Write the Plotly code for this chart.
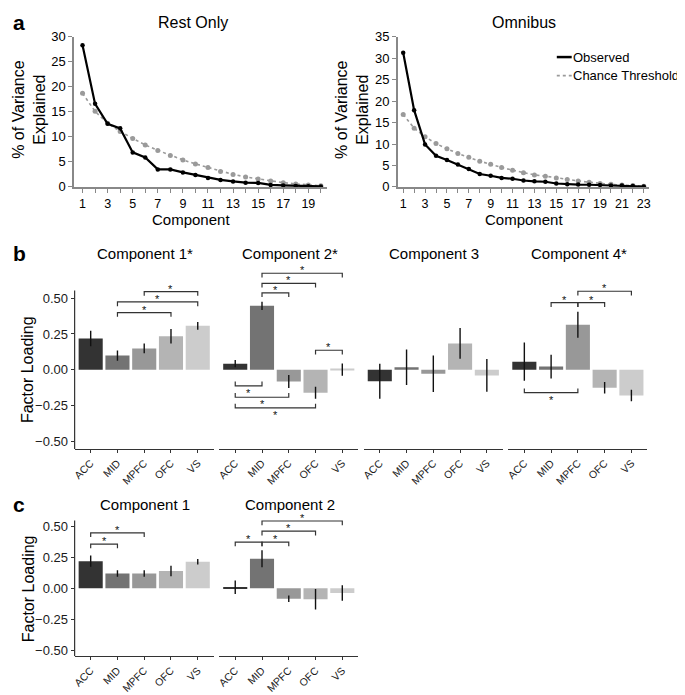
import plotly.graph_objects as go

W, H = 685, 695
FONT = "Liberation Sans, Arial, sans-serif"

# ---------------- data ----------------
rest_comp = list(range(1, 21))
rest_observed = [28.3, 16.6, 12.6, 11.7, 6.9, 5.9, 3.5, 3.5, 2.9, 2.4, 1.8, 1.4, 1.1, 0.85, 0.8, 0.4, 0.3, 0.2, 0.15, 0.1]
rest_chance = [18.7, 15.1, 12.7, 11.1, 9.7, 8.4, 7.3, 6.3, 5.4, 4.6, 3.9, 3.1, 2.5, 2.0, 1.6, 1.2, 0.85, 0.6, 0.4, 0.25]

omni_comp = list(range(1, 24))
omni_observed = [31.3, 17.9, 9.9, 7.25, 6.26, 5.2, 4.2, 3.0, 2.6, 2.1, 1.9, 1.5, 1.3, 1.2, 0.8, 0.6, 0.55, 0.5, 0.45, 0.35, 0.3, 0.2, 0.1]
omni_chance = [16.9, 13.7, 11.7, 10.1, 8.9, 7.8, 6.9, 6.0, 5.3, 4.5, 3.9, 3.3, 2.8, 2.5, 2.1, 1.7, 1.4, 1.1, 0.8, 0.6, 0.45, 0.3, 0.15]

regions = ["ACC", "MID", "MPFC", "OFC", "VS"]
region_colors = ["#333333", "#737373", "#989898", "#B4B4B4", "#CCCCCC"]

b_titles = ["Component 1*", "Component 2*", "Component 3", "Component 4*"]
b_means = [
    [0.218, 0.099, 0.149, 0.234, 0.307],
    [0.042, 0.447, -0.083, -0.161, 0.001],
    [-0.081, 0.017, -0.028, 0.184, -0.040],
    [0.056, 0.022, 0.314, -0.127, -0.181],
]
b_err = [
    [0.054, 0.036, 0.034, 0.051, 0.027],
    [0.025, 0.029, 0.045, 0.042, 0.043],
    [0.122, 0.125, 0.128, 0.108, 0.114],
    [0.134, 0.083, 0.091, 0.040, 0.040],
]
# significance brackets: (facet index, from, to, level, direction)
b_sig = [
    (0, "MID", "OFC", 0.400, 1), (0, "MID", "VS", 0.474, 1), (0, "MPFC", "VS", 0.547, 1),
    (1, "MID", "MPFC", 0.538, 1), (1, "MID", "OFC", 0.604, 1), (1, "MID", "VS", 0.675, 1),
    (1, "OFC", "VS", 0.136, 1),
    (1, "ACC", "MID", -0.113, -1), (1, "ACC", "MPFC", -0.193, -1), (1, "ACC", "OFC", -0.268, -1),
    (3, "MID", "MPFC", 0.469, 1), (3, "MPFC", "OFC", 0.469, 1), (3, "MPFC", "VS", 0.549, 1),
    (3, "ACC", "MPFC", -0.161, -1),
]

c_titles = ["Component 1", "Component 2"]
c_means = [
    [0.219, 0.120, 0.120, 0.140, 0.214],
    [0.009, 0.238, -0.083, -0.088, -0.038],
]
c_err = [
    [0.046, 0.026, 0.026, 0.042, 0.022],
    [0.055, 0.068, 0.026, 0.083, 0.062],
]
c_sig = [
    (0, "ACC", "MID", 0.356, 1), (0, "ACC", "MPFC", 0.447, 1),
    (1, "ACC", "MID", 0.372, 1), (1, "MID", "MPFC", 0.372, 1),
    (1, "MID", "OFC", 0.460, 1), (1, "MID", "VS", 0.542, 1),
]

y_ticks_bc = [-0.5, -0.25, 0, 0.25, 0.5]


def px(x):
    return x / W


def py(y):
    return 1 - y / H


fig = go.Figure()
layout = dict(
    width=W, height=H, margin=dict(l=0, r=0, t=0, b=0),
    paper_bgcolor="white", plot_bgcolor="white", showlegend=False,
    font=dict(family=FONT, color="black"),
    bargap=0.1,
)
annotations = []
shapes = []

# ---------------- panel a ----------------
a_specs = [
    ("", rest_comp, rest_observed, rest_chance, (63.5, 318), [0.33, 20.5], [0, 30], list(range(0, 31, 5))),
    ("2", omni_comp, omni_observed, omni_chance, (389, 642), [0.5, 23.5], [0, 35], list(range(0, 36, 5))),
]
for suf, comp, obs, ch, (x0, x1), xr, yr, yt in a_specs:
    fig.add_trace(go.Scatter(
        x=comp, y=ch, mode="lines+markers", xaxis="x" + suf, yaxis="y" + suf,
        line=dict(color="#9a9a9a", width=1.6, dash="dot"),
        marker=dict(color="#9a9a9a", size=5), cliponaxis=False, name="Chance Threshold"))
    fig.add_trace(go.Scatter(
        x=comp, y=obs, mode="lines+markers", xaxis="x" + suf, yaxis="y" + suf,
        line=dict(color="black", width=2.2), marker=dict(color="black", size=4.5),
        cliponaxis=False, name="Observed"))
    ticktext = [str(c) if c % 2 == 1 else "" for c in comp]
    layout["xaxis" + suf] = dict(
        domain=[px(x0), px(x1)], range=xr, anchor="y" + suf,
        tickvals=comp, ticktext=ticktext, ticks="outside", ticklen=4, tickcolor="#888",
        showline=True, linecolor="#888", linewidth=1.5, showgrid=False, zeroline=False,
        tickfont=dict(size=12.5, color="black"))
    layout["yaxis" + suf] = dict(
        domain=[py(175.7), py(22.3)], range=yr, anchor="x" + suf,
        tickvals=yt, ticks="outside", ticklen=4, tickcolor="#888",
        showline=True, linecolor="#888", linewidth=1.5, showgrid=False, zeroline=False,
        tickfont=dict(size=13, color="black"))

annotations += [
    dict(x=px(0), y=py(8), text="<b>a</b>", xanchor="left", font=dict(size=21)),
    dict(x=px(183), y=py(8), text="Rest Only", font=dict(size=16)),
    dict(x=px(516), y=py(8), text="Omnibus", font=dict(size=16)),
    dict(x=px(18), y=py(96), text="% of Variance<br>Explained", textangle=-90,
         font=dict(size=16)),
    dict(x=px(343), y=py(96), text="% of Variance<br>Explained", textangle=-90,
         font=dict(size=16)),
    dict(x=px(181), y=py(209), text="Component", font=dict(size=15)),
    dict(x=px(516), y=py(209), text="Component", font=dict(size=15)),
    dict(x=px(563), y=py(43), text="Observed", xanchor="left", font=dict(size=13)),
    dict(x=px(563), y=py(62), text="Chance Threshold", xanchor="left", font=dict(size=13)),
]
shapes += [
    dict(type="line", xref="paper", yref="paper", x0=px(549), x1=px(564), y0=py(43), y1=py(43),
         line=dict(color="black", width=2.5)),
    dict(type="line", xref="paper", yref="paper", x0=px(549), x1=px(564), y0=py(62), y1=py(62),
         line=dict(color="#9a9a9a", width=1.8, dash="dot")),
]


# ---------------- bar panels ----------------
def bar_panel(first_ax, titles, means, errs, sigs, facet_x0, top_py, zero_py, scale, axis_lim, y_top):
    n = len(titles)
    ybot = -axis_lim
    bottom_py = zero_py + axis_lim * scale
    topv = (zero_py - top_py) / scale
    tip = 4.3 / scale
    for k in range(n):
        ax = first_ax + k
        xa, ya = "x%d" % ax, "y%d" % ax
        left = facet_x0[k]
        for r, m, e, col in zip(regions, means[k], errs[k], region_colors):
            fig.add_trace(go.Bar(
                x=[r], y=[m], xaxis=xa, yaxis=ya, marker=dict(color=col, line=dict(width=0)),
                error_y=dict(type="data", array=[e], visible=True, width=0, thickness=1.4,
                             color="#111"),
                name=r))
        layout["xaxis%d" % ax] = dict(
            domain=[px(left), px(left + 140)], range=[-0.6, 4.6], anchor=ya,
            type="category", categoryorder="array", categoryarray=regions,
            showline=True, linecolor="#333", linewidth=1.2, ticks="outside", ticklen=3,
            tickcolor="#333", tickangle=-45, showgrid=False, zeroline=False,
            tickfont=dict(size=10.5, color="#1a1a1a"))
        yd = dict(domain=[py(bottom_py), py(top_py)], range=[ybot, topv], anchor=xa,
                  showgrid=False, zeroline=False, showline=False, tickvals=y_ticks_bc)
        if k == 0:
            yd.update(ticks="outside", ticklen=3, tickcolor="#333", tickformat=".2f",
                      tickfont=dict(size=13, color="#1a1a1a"))
            shapes.append(dict(type="line", xref="%s domain" % xa, yref=ya, x0=0, x1=0,
                               y0=ybot, y1=axis_lim, line=dict(color="#333", width=1.2)))
        else:
            yd.update(showticklabels=False, ticks="")
        layout["yaxis%d" % ax] = yd
        annotations.append(dict(x=px(left + 71), y=py(y_top), text=titles[k],
                                font=dict(size=15)))
    for (k, a, b, lvl, d) in sigs:
        ax = first_ax + k
        xa, ya = "x%d" % ax, "y%d" % ax
        fig.add_trace(go.Scatter(
            x=[a, a, b, b], y=[lvl - d * tip, lvl, lvl, lvl - d * tip], mode="lines",
            xaxis=xa, yaxis=ya, line=dict(color="#333", width=1.2), hoverinfo="skip"))
        mid = (regions.index(a) + regions.index(b)) / 2
        annotations.append(dict(x=mid, y=lvl, xref=xa, yref=ya, text="*", showarrow=False,
                                xanchor="center", yanchor="middle",
                                yshift=3 if d > 0 else -7,
                                font=dict(size=11, color="#111")))


facets = [64, 209.4, 354.8, 500.2]
bar_panel(3, b_titles, b_means, b_err, b_sig, facets, top_py=252, zero_py=362.5, scale=146,
          axis_lim=0.555, y_top=244)
bar_panel(7, c_titles, c_means, c_err, c_sig, facets[:2], top_py=507, zero_py=586, scale=127,
          axis_lim=0.547, y_top=500)

annotations += [
    dict(x=px(0), y=py(244), text="<b>b</b>", xanchor="left", font=dict(size=21)),
    dict(x=px(0), y=py(500), text="<b>c</b>", xanchor="left", font=dict(size=21)),
    dict(x=px(16), y=py(362), text="Factor Loading", textangle=-90, font=dict(size=16)),
    dict(x=px(17), y=py(586), text="Factor Loading", textangle=-90, font=dict(size=16)),
]

for a in annotations:
    a.setdefault("xref", "paper")
    a.setdefault("yref", "paper")
    a.setdefault("showarrow", False)
    a.setdefault("xanchor", "center")
    a.setdefault("yanchor", "middle")
layout["annotations"] = annotations
layout["shapes"] = shapes
fig.update_layout(**layout)
fig.write_html("out.html")
